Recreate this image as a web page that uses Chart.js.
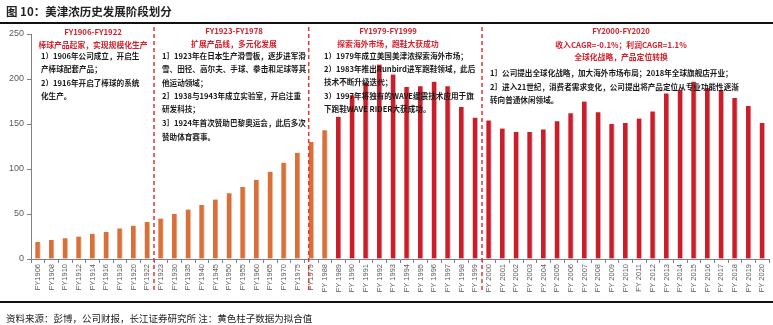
<!DOCTYPE html>
<html>
<head>
<meta charset="utf-8">
<script src="https://cdn.jsdelivr.net/npm/chart.js@4.4.1/dist/chart.umd.min.js"></script>
<style>
body { margin: 0; background: #fff; font-family: "Noto Sans CJK SC", sans-serif; }
#wrap { position: relative; width: 773px; height: 325px; overflow: hidden; }
#c { position: absolute; left: 0; top: 0; }
.hd { position: absolute; left: 6px; top: 3px; font-size: 11.5px; font-weight: bold; color: #222; }
.rule { position: absolute; left: 0; width: 773px; height: 1.5px; background: #111; }
.ft { position: absolute; left: 6px; top: 311px; font-size: 9.5px; color: #222; }
.t { position: absolute; white-space: nowrap; font-size: 7.6px; font-weight: bold; line-height: 10px; transform: translateY(-50%); color: #1a1a1a; }
.r { color: #d4202c; transform: translate(-50%, -50%); font-size: 7.8px; }
</style>
</head>
<body>
<div id="wrap">
  <canvas id="c" width="773" height="325"></canvas>
  <div class="hd">图 10：美津浓历史发展阶段划分</div>
  <div class="rule" style="top:22px"></div>

  <!-- phase 1 -->
  <div class="t r" style="left:93px;top:32px">FY1906-FY1922</div>
  <div class="t r" style="left:93px;top:45px">棒球产品起家，实现规模化生产</div>
  <div class="t" style="left:41px;top:56px">1）1906年公司成立，开启生</div>
  <div class="t" style="left:41px;top:69px">产棒球配套产品；</div>
  <div class="t" style="left:41px;top:83px">2）1916年开启了棒球的系统</div>
  <div class="t" style="left:41px;top:96px">化生产。</div>

  <!-- phase 2 -->
  <div class="t r" style="left:234px;top:31px">FY1923-FY1978</div>
  <div class="t r" style="left:234px;top:44px">扩展产品线，多元化发展</div>
  <div class="t" style="left:162px;top:56px">1］1923年在日本生产滑雪板，逐步进军滑</div>
  <div class="t" style="left:162px;top:69px">雪、田径、高尔夫、手球、拳击和足球等其</div>
  <div class="t" style="left:162px;top:83px">他运动领域；</div>
  <div class="t" style="left:162px;top:96px">2］1938与1943年成立实验室，开启注重</div>
  <div class="t" style="left:162px;top:109px">研发科技；</div>
  <div class="t" style="left:162px;top:123px">3］1924年首次赞助巴黎奥运会，此后多次</div>
  <div class="t" style="left:162px;top:137px">赞助体育赛事。</div>

  <!-- phase 3 -->
  <div class="t r" style="left:388px;top:31px">FY1979-FY1999</div>
  <div class="t r" style="left:388px;top:44px">探索海外市场，跑鞋大获成功</div>
  <div class="t" style="left:324px;top:56px">1）1979年成立美国美津浓探索海外市场；</div>
  <div class="t" style="left:324px;top:69px">2）1983年推出Runbird进军跑鞋领域，此后</div>
  <div class="t" style="left:324px;top:82px">技术不断升级迭代；</div>
  <div class="t" style="left:324px;top:96px">3）1997年将独有的WAVE缓震技术应用于旗</div>
  <div class="t" style="left:324px;top:109px">下跑鞋WAVE RIDER大获成功。</div>

  <!-- phase 4 -->
  <div class="t r" style="left:621px;top:31px">FY2000-FY2020</div>
  <div class="t r" style="left:621px;top:45px">收入CAGR=-0.1%；利润CAGR=1.1%</div>
  <div class="t r" style="left:621px;top:57px">全球化战略，产品定位转换</div>
  <div class="t" style="left:490px;top:73px">1］公司提出全球化战略，加大海外市场布局；2018年全球旗舰店开业；</div>
  <div class="t" style="left:490px;top:87px">2］进入21世纪，消费者需求变化，公司提出将产品定位从专业功能性逐渐</div>
  <div class="t" style="left:490px;top:100px">转向普通休闲领域。</div>

  <div class="rule" style="top:301px"></div>
  <div class="ft">资料来源：彭博，公司财报，长江证券研究所 注：黄色柱子数据为拟合值</div>
</div>

<script>
// ===== Data =====
const categories = [
  "FY1906", "FY1908", "FY1910", "FY1912", "FY1914", "FY1916", "FY1918", "FY1920", "FY1922",
  "FY1923", "FY1930", "FY1935", "FY1940", "FY1945", "FY1950", "FY1955", "FY1960", "FY1965", "FY1970", "FY1975",
  "FY1979", "FY 1988",
  "FY 1989", "FY 1990", "FY 1991", "FY 1992", "FY 1993", "FY 1994", "FY 1995", "FY 1996", "FY 1997", "FY 1998", "FY 1999",
  "FY 2000", "FY 2001", "FY 2002", "FY 2003", "FY 2004", "FY 2005", "FY 2006", "FY 2007", "FY 2008", "FY 2009",
  "FY 2010", "FY 2011", "FY 2012", "FY 2013", "FY 2014", "FY 2015", "FY 2016", "FY 2017", "FY 2018", "FY 2019", "FY 2020"
];
const revenue = [
  19, 21, 23, 25, 28, 30, 34, 37, 41,
  45, 50, 55, 60, 66, 73, 80, 88, 97, 107, 118,
  130, 143,
  158, 182, 196, 216, 205, 191, 192, 197, 192, 169, 157,
  154, 145, 141, 141, 144, 153, 162, 175, 163, 150,
  151, 156, 164, 184, 188, 197, 190, 187, 179, 170, 151
];
const lastFitted = "FY 1988";   // bars up to here are fitted values
const yTicks = [0, 50, 100, 150, 200, 250];

// phase dividers: [category the phase starts at, how far back toward the previous bar]
const phaseBreaks = [["FY1923", 0.5], ["FY1979", 0.18], ["FY 2000", 0.5]];

// ===== Styles =====
const fitIdx = categories.indexOf(lastFitted);
const barColors = categories.map((c, i) => i <= fitIdx ? "#d8703c" : "#c81f2a");
const edgeColors = categories.map((c, i) => i <= fitIdx ? "#f2b58f" : "#eaa0a6");

const dividerPlugin = {
  id: "dividers",
  afterDatasetsDraw(chart) {
    const ctx = chart.ctx;
    const x = chart.scales.x;
    ctx.save();
    ctx.strokeStyle = "#e8333d";
    ctx.lineWidth = 1.5;
    ctx.setLineDash([4, 3]);
    phaseBreaks.forEach(([cat, back]) => {
      const px = x.getPixelForValue(categories.indexOf(cat) - back);
      ctx.beginPath();
      ctx.moveTo(px, 27);
      ctx.lineTo(px, 293);
      ctx.stroke();
    });
    ctx.restore();
  }
};

new Chart(document.getElementById("c"), {
  type: "bar",
  data: {
    labels: categories,
    datasets: [{
      data: revenue,
      backgroundColor: barColors,
      borderColor: edgeColors,
      borderWidth: { right: 1, left: 0, top: 0, bottom: 0 },
      borderSkipped: false,
      barThickness: 5
    }]
  },
  options: {
    responsive: false,
    animation: false,
    layout: { padding: { top: 34, right: 4, bottom: 30, left: 0 } },
    plugins: { legend: { display: false }, tooltip: { enabled: false } },
    scales: {
      x: {
        afterFit: s => { s.height = 36; },
        grid: { drawOnChartArea: false, tickLength: 4, color: "#808080" },
        border: { color: "#808080" },
        ticks: {
          autoSkip: false, maxRotation: 90, minRotation: 90, padding: 1,
          color: "#595959", font: { family: "Liberation Sans", size: 7.5 }
        }
      },
      y: {
        min: 0, max: 250,
        afterFit: s => { s.width = 31; },
        afterBuildTicks: s => { s.ticks = yTicks.map(v => ({ value: v })); },
        grid: { drawOnChartArea: false, tickLength: 4, color: "#808080" },
        border: { color: "#808080" },
        ticks: { padding: 3, color: "#595959", font: { family: "Liberation Sans", size: 9 } }
      }
    }
  },
  plugins: [dividerPlugin]
});
</script>
</body>
</html>
